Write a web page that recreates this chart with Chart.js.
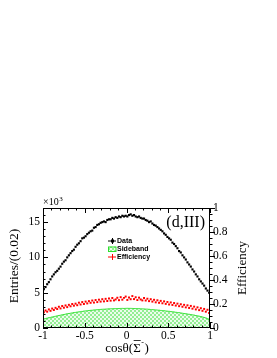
<!DOCTYPE html>
<html>
<head>
<meta charset="utf-8">
<script src="https://cdn.jsdelivr.net/npm/chart.js@4.4.0/dist/chart.umd.min.js"></script>
<style>
  html, body { margin: 0; padding: 0; background: #fff; }
</style>
</head>
<body>
<canvas id="chart" width="277" height="358"></canvas>
<script>
// ===========================
// Data (100 bins of 0.02 in cos theta)
// ===========================
const binLow = -1, binWidth = 0.02, nBins = 100;
const binCenters = Array.from({length: nBins}, (_, i) => +(binLow + binWidth * (i + 0.5)).toFixed(2));

// entries, x10^3
const dataVals = [
  5.5, 5.8, 6.2, 6.5, 6.9, 7.3, 7.6, 7.9, 8.1, 8.4,
  8.7, 9.1, 9.4, 9.6, 10.0, 10.3, 10.6, 10.9, 11.1, 11.5,
  11.8, 12.0, 12.3, 12.7, 12.8, 13.0, 13.3, 13.5, 13.7, 13.8,
  14.2, 14.3, 14.6, 14.7, 14.9, 15.0, 15.1, 15.0, 15.3, 15.4,
  15.4, 15.6, 15.5, 15.7, 15.6, 15.8, 15.7, 15.9, 15.8, 15.9,
  15.8, 16.0, 16.1, 15.9, 16.0, 15.8, 15.7, 15.8, 15.6, 15.5,
  15.5, 15.3, 15.2, 15.0, 15.1, 14.8, 14.6, 14.5, 14.3, 14.1,
  13.9, 13.7, 13.4, 13.2, 12.9, 12.7, 12.5, 12.1, 11.9, 11.6,
  11.3, 10.9, 10.7, 10.3, 10.0, 9.7, 9.3, 9.0, 8.7, 8.3,
  8.0, 7.6, 7.3, 6.9, 6.6, 6.3, 6.0, 5.6, 5.3, 5.0
];

// sideband, x10^3
const sidebandVals = [
  1.28, 1.33, 1.39, 1.45, 1.50, 1.56, 1.60, 1.66, 1.71, 1.76,
  1.81, 1.86, 1.91, 1.96, 2.01, 2.05, 2.09, 2.13, 2.18, 2.21,
  2.25, 2.28, 2.32, 2.35, 2.39, 2.42, 2.44, 2.47, 2.50, 2.52,
  2.55, 2.57, 2.59, 2.61, 2.63, 2.65, 2.66, 2.68, 2.69, 2.71,
  2.72, 2.73, 2.74, 2.75, 2.76, 2.76, 2.77, 2.78, 2.77, 2.78,
  2.79, 2.78, 2.78, 2.77, 2.76, 2.76, 2.75, 2.74, 2.72, 2.71,
  2.70, 2.68, 2.67, 2.65, 2.62, 2.61, 2.58, 2.56, 2.54, 2.52,
  2.49, 2.47, 2.44, 2.41, 2.39, 2.36, 2.33, 2.30, 2.27, 2.23,
  2.20, 2.17, 2.13, 2.09, 2.05, 2.02, 1.98, 1.94, 1.90, 1.86,
  1.82, 1.77, 1.72, 1.67, 1.62, 1.56, 1.49, 1.42, 1.33, 1.20
];

// efficiency (right axis)
const effVals = [
  0.132, 0.146, 0.136, 0.155, 0.143, 0.162, 0.150, 0.168, 0.158, 0.177,
  0.163, 0.183, 0.169, 0.188, 0.174, 0.193, 0.181, 0.200, 0.186, 0.203,
  0.190, 0.211, 0.196, 0.216, 0.200, 0.220, 0.205, 0.224, 0.210, 0.229,
  0.212, 0.233, 0.216, 0.236, 0.220, 0.240, 0.222, 0.243, 0.225, 0.246,
  0.228, 0.250, 0.230, 0.238, 0.252, 0.232, 0.257, 0.236, 0.251, 0.262,
  0.234, 0.254, 0.240, 0.266, 0.241, 0.256, 0.233, 0.253, 0.238, 0.230,
  0.250, 0.229, 0.244, 0.224, 0.240, 0.220, 0.235, 0.214, 0.231, 0.210,
  0.226, 0.206, 0.222, 0.201, 0.217, 0.196, 0.213, 0.192, 0.208, 0.187,
  0.203, 0.182, 0.198, 0.177, 0.193, 0.172, 0.189, 0.167, 0.184, 0.161,
  0.178, 0.155, 0.172, 0.149, 0.165, 0.143, 0.159, 0.136, 0.152, 0.125
];

const legendLabels = ["Data", "Sideband", "Efficiency"];
const xTickStep = 0.5, yTickStep = 5, y1TickStep = 0.2;

// ===========================
// Build points
// ===========================
const dataPts = binCenters.map((x, i) => ({x, y: dataVals[i]}));
const effPts = binCenters.map((x, i) => ({x, y: effVals[i]}));
const sbPts = [{x: -1, y: sidebandVals[0]}]
  .concat(binCenters.map((x, i) => ({x, y: sidebandVals[i]})))
  .concat([{x: 1, y: sidebandVals[nBins - 1]}]);

// hatch pattern for sideband
function makeHatch(){
  const pc = document.createElement("canvas");
  pc.width = 4; pc.height = 4;
  const p = pc.getContext("2d");
  p.fillStyle = "#ecfcec"; p.fillRect(0, 0, 4, 4);
  p.fillStyle = "#93ee93";
  p.fillRect(0, 0, 2, 2); p.fillRect(2, 2, 2, 2);
  return p.createPattern(pc, "repeat");
}

const SERIF = "'Liberation Serif', 'DejaVu Serif', serif";
const SANS = "'Liberation Sans', Arial, sans-serif";
const fmtTick = v => String(Number(v.toFixed(2)));

// ===========================
// Frame, ROOT style ticks, texts, legend
// ===========================
const rootDecor = {
  id: "rootDecor",
  afterDatasetsDraw(chart){
    const {ctx, chartArea: a, scales} = chart;
    const sx = scales.x, sy = scales.y, sy1 = scales.y1;
    ctx.save();
    ctx.strokeStyle = "#000"; ctx.lineWidth = 1;
    ctx.strokeRect(a.left + 0.5, a.top + 0.5, a.right - a.left - 1, a.bottom - a.top - 1);

    ctx.beginPath();
    // x ticks bottom + top
    for(let i = 0; i <= 20; i++){
      const px = Math.round(sx.getPixelForValue(-1 + i * 0.1)) + 0.5;
      const len = (i % 5 === 0) ? 5 : 2.5;
      ctx.moveTo(px, a.bottom); ctx.lineTo(px, a.bottom - len);
      ctx.moveTo(px, a.top); ctx.lineTo(px, a.top + len);
    }
    // left ticks
    for(let v = 0; v <= 17; v++){
      const py = Math.round(sy.getPixelForValue(v)) + 0.5;
      const len = (v % 5 === 0) ? 5 : 2.5;
      ctx.moveTo(a.left, py); ctx.lineTo(a.left + len, py);
    }
    // right axis ticks (efficiency)
    for(let i = 0; i <= 20; i++){
      const py = Math.round(sy1.getPixelForValue(i * 0.05)) + 0.5;
      const len = (i % 4 === 0) ? 5 : 2.5;
      ctx.moveTo(a.right, py); ctx.lineTo(a.right + len, py);
    }
    ctx.stroke();

    ctx.fillStyle = "#000";
    // x10^3
    ctx.textAlign = "left"; ctx.textBaseline = "alphabetic";
    ctx.font = "10px " + SERIF;
    ctx.fillText("\u00d710", a.left, a.top - 3);
    const w10 = ctx.measureText("\u00d710").width;
    ctx.font = "7px " + SERIF;
    ctx.fillText("3", a.left + w10 + 0.5, a.top - 7);

    // panel label
    ctx.font = "16px " + SERIF;
    ctx.textAlign = "right"; ctx.textBaseline = "middle";
    ctx.fillText("(d,III)", a.right - 5, 223);

    // legend
    const lx = 112, ly = [241, 249, 257];
    ctx.font = "bold 7px " + SANS;
    ctx.textAlign = "left";
    legendLabels.forEach((t, i) => ctx.fillText(t, lx + 5, ly[i]));
    ctx.beginPath();
    ctx.moveTo(lx - 4, ly[0]); ctx.lineTo(lx + 4, ly[0]);
    ctx.moveTo(lx + 0.5, ly[0] - 3); ctx.lineTo(lx + 0.5, ly[0] + 3);
    ctx.stroke();
    ctx.fillRect(lx - 1, ly[0] - 1.5, 3, 3);
    ctx.fillStyle = chart.data.datasets[0].backgroundColor;
    ctx.fillRect(lx - 4, ly[1] - 2.5, 8, 5);
    ctx.strokeStyle = "#2fe02f";
    ctx.strokeRect(lx - 4 + 0.5, ly[1] - 2.5 + 0.5, 7.5, 4.5);
    ctx.strokeStyle = "#ff0000"; ctx.fillStyle = "#ff0000";
    ctx.beginPath();
    ctx.moveTo(lx - 4, ly[2]); ctx.lineTo(lx + 4, ly[2]);
    ctx.moveTo(lx + 0.5, ly[2] - 3); ctx.lineTo(lx + 0.5, ly[2] + 3);
    ctx.stroke();

    // axis titles
    ctx.fillStyle = "#000";
    ctx.textAlign = "center"; ctx.textBaseline = "middle";
    ctx.font = "13.5px " + SERIF;
    ctx.save(); ctx.translate(14, 266); ctx.rotate(-Math.PI / 2);
    ctx.fillText("Entries/(0.02)", 0, 0); ctx.restore();
    ctx.font = "13px " + SERIF;
    ctx.save(); ctx.translate(243, 268); ctx.rotate(-Math.PI / 2);
    ctx.fillText("Efficiency", 0, 0); ctx.restore();

    // x title: cos theta ( Sigma-bar ^- )
    ctx.font = "13px " + SERIF;
    ctx.textAlign = "left"; ctx.textBaseline = "alphabetic";
    const p1 = "cos\u03b8(", p2 = "\u03a3", p4 = ")";
    const w1 = ctx.measureText(p1).width, w2 = ctx.measureText(p2).width, w4 = ctx.measureText(p4).width;
    ctx.font = "8px " + SERIF;
    const w3 = ctx.measureText("-").width + 1;
    const total = w1 + w2 + w3 + w4;
    let x0 = 127 - total / 2;
    const base = 352;
    ctx.font = "13px " + SERIF;
    ctx.fillText(p1, x0, base);
    ctx.fillText(p2, x0 + w1, base);
    ctx.beginPath();
    ctx.moveTo(x0 + w1 + 0.5, base - 11.5); ctx.lineTo(x0 + w1 + w2, base - 11.5);
    ctx.strokeStyle = "#000"; ctx.lineWidth = 0.8; ctx.stroke();
    ctx.font = "8px " + SERIF;
    ctx.fillText("-", x0 + w1 + w2 + 0.5, base - 7);
    ctx.font = "13px " + SERIF;
    ctx.fillText(p4, x0 + w1 + w2 + w3, base);
    ctx.restore();
  }
};

// ===========================
// Chart
// ===========================
const tickFont = {family: SERIF, size: 11.5};
const ctx = document.getElementById("chart");

new Chart(ctx, {
  type: "scatter",
  data: {
    datasets: [
      {type: "line", label: "Sideband", data: sbPts, yAxisID: "y", stepped: "middle",
       fill: "origin", borderColor: "#2fe02f", borderWidth: 1, backgroundColor: makeHatch(),
       pointRadius: 0, order: 3},
      {label: "Efficiency", data: effPts, yAxisID: "y1", pointStyle: "rect", pointRadius: 1.4,
       backgroundColor: "#ff0000", borderColor: "#ff0000", borderWidth: 0, order: 2},
      {label: "Data", data: dataPts, yAxisID: "y", pointStyle: "rect", pointRadius: 1.5,
       backgroundColor: "#000", borderColor: "#000", borderWidth: 0, order: 1}
    ]
  },
  options: {
    responsive: false,
    animation: false,
    devicePixelRatio: 1,
    layout: {padding: {top: 208, left: 0, right: 0, bottom: 0}},
    plugins: {legend: {display: false}, tooltip: {enabled: false}},
    scales: {
      x: {
        type: "linear", min: -1, max: 1,
        grid: {display: false, drawTicks: false}, border: {display: false},
        ticks: {stepSize: xTickStep, font: tickFont, color: "#000", padding: 1, maxRotation: 0,
                autoSkip: false, callback: fmtTick},
        afterFit(s){ s.height = 30; }
      },
      y: {
        position: "left", min: 0, max: 17,
        grid: {display: false, drawTicks: false}, border: {display: false},
        ticks: {stepSize: yTickStep, font: tickFont, color: "#000", padding: 3, callback: fmtTick},
        afterBuildTicks(s){ s.ticks = s.ticks.filter(t => t.value % yTickStep === 0); },
        afterFit(s){ s.width = 43; }
      },
      y1: {
        position: "right", min: 0, max: 1,
        grid: {display: false, drawTicks: false}, border: {display: false},
        ticks: {stepSize: y1TickStep, font: tickFont, color: "#000", padding: 3, callback: fmtTick},
        afterFit(s){ s.width = 67; }
      }
    }
  },
  plugins: [rootDecor]
});
</script>
</body>
</html>
